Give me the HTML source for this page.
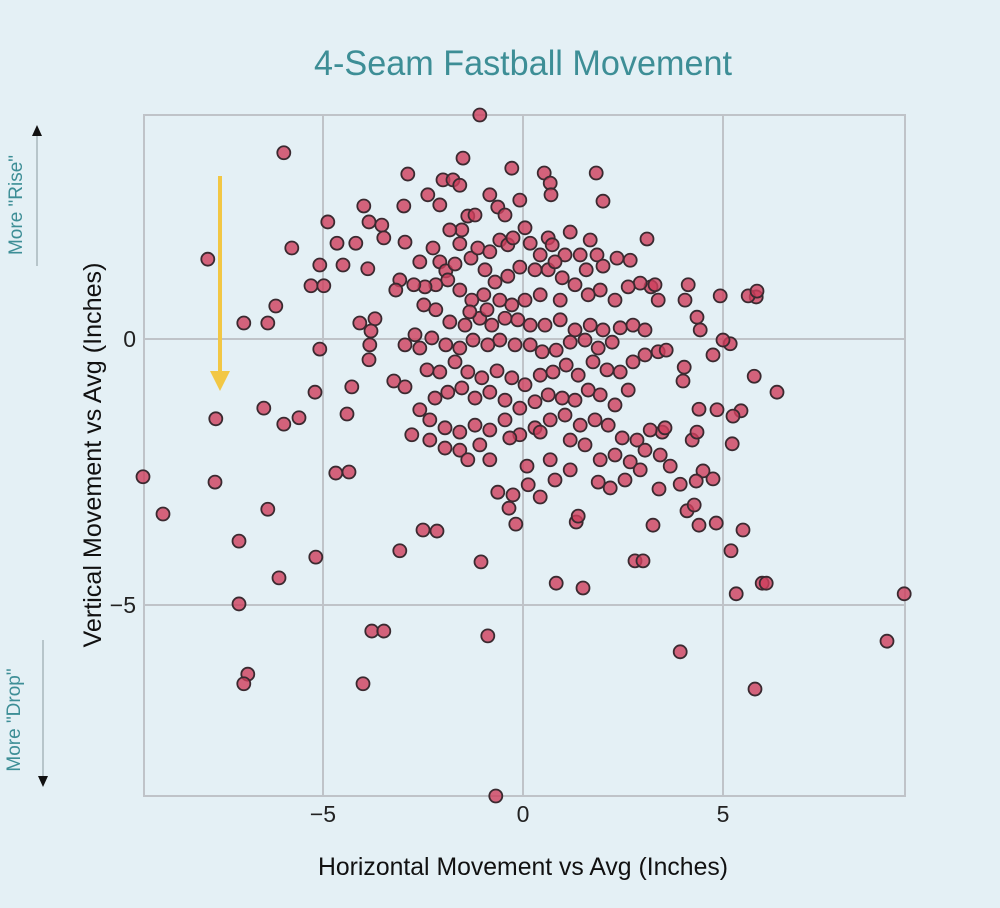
<!DOCTYPE html>
<html><head><meta charset="utf-8">
<style>
html,body{margin:0;padding:0;background:#e4f0f5;}
svg{display:block;font-family:"Liberation Sans",sans-serif;}
</style></head>
<body>
<svg id="chart" width="1000" height="908" viewBox="0 0 1000 908">
<rect x="0" y="0" width="1000" height="908" fill="#e4f0f5"/>
<text x="523" y="75" text-anchor="middle" font-size="35" fill="#3d8e96" textLength="418" lengthAdjust="spacingAndGlyphs">4-Seam Fastball Movement</text>
<g id="grid"></g>
<g id="ticks"></g>
<line x1="220" y1="176" x2="220" y2="372" stroke="#f2c744" stroke-width="4"/>
<polygon points="210,371 230,371 220,391" fill="#f2c744"/>
<g id="points"></g>
<text transform="translate(523,875)" text-anchor="middle" font-size="25" fill="#111" textLength="410" lengthAdjust="spacingAndGlyphs">Horizontal Movement vs Avg (Inches)</text>
<text transform="translate(101,455) rotate(-90)" text-anchor="middle" font-size="25" fill="#111" textLength="385" lengthAdjust="spacingAndGlyphs">Vertical Movement vs Avg (Inches)</text>
<line x1="37" y1="136" x2="37" y2="266" stroke="#8a9aa0" stroke-width="1"/>
<polygon points="32,136 42,136 37,125" fill="#111"/>
<text transform="translate(22,205) rotate(-90)" text-anchor="middle" font-size="19" fill="#3d8e96">More "Rise"</text>
<line x1="43" y1="640" x2="43" y2="776" stroke="#8a9aa0" stroke-width="1"/>
<polygon points="38,776 48,776 43,787" fill="#111"/>
<text transform="translate(20,720) rotate(-90)" text-anchor="middle" font-size="19" fill="#3d8e96">More "Drop"</text>
</svg>
<script>
const xTicks=[-5,0,5];
const yTicks=[0,-5];
const xs=[-1.08,-5.98,-1.50,-0.28,0.53,-2.88,1.83,-2.00,-1.75,0.68,0.70,-2.38,2.00,-2.98,-0.63,-3.98,-4.88,-3.85,-3.53,-3.48,-2.95,-4.65,-4.18,-5.78,-7.88,-5.08,-4.50,-3.88,-5.30,-4.98,-6.18,-6.38,-6.98,-4.08,-3.70,-3.80,-3.83,-5.08,-3.85,-4.28,-5.20,-6.48,-5.60,-4.40,-7.68,-5.98,-2.78,-3.23,-2.95,-4.35,-4.68,-7.70,-9.50,-9.00,-6.38,-7.10,-3.08,-2.50,-2.15,-5.18,-6.10,-1.05,-7.10,-3.78,-3.48,-0.88,-6.88,-6.98,-4.00,-0.68,6.35,5.78,5.45,5.25,5.18,4.93,5.00,5.83,5.63,5.85,4.85,5.23,4.75,4.50,5.20,5.50,5.33,5.98,6.08,9.53,9.10,3.93,5.80,4.33,4.10,4.23,3.93,3.40,3.25,1.50,0.83,2.80,3.00,1.33,1.38,0.10,0.13,-0.18,-0.25,-0.63,-0.35,0.43,4.40,4.35,3.68,3.48,4.28,4.40,4.43,4.35,4.03,4.00,3.10,3.20,3.30,3.38,4.05,4.13,4.75,4.83,
-2.58,-2.25,-2.08,-1.93,-1.70,-1.58,-1.53,-1.38,-1.30,-1.13,-0.95,-0.83,-0.58,-0.38,-0.25,0.05,0.18,0.63,0.73,1.05,1.43,1.58,1.85,2.00,2.35,2.68,2.93,2.63,2.30,1.93,1.63,1.30,0.98,0.63,0.30,-0.08,-0.38,-0.70,-0.98,-1.28,-1.58,-1.88,-2.18,-2.45,-2.73,-3.08,-3.18,-2.48,-2.18,-1.83,-1.45,-1.08,-0.78,-0.45,-0.13,0.18,0.55,0.93,1.30,1.68,2.00,2.43,2.75,3.05,2.23,1.88,1.55,1.18,0.83,0.48,0.18,-0.20,-0.58,-0.88,-1.25,-1.58,-1.93,-2.28,-2.58,-2.95,-2.70,-2.40,-2.08,-1.70,-1.38,-1.03,-0.65,-0.28,0.05,0.43,0.75,1.08,1.38,1.75,2.10,2.43,2.75,3.05,3.38,3.58,2.63,2.30,1.93,1.63,1.30,0.98,0.63,0.30,-0.08,-0.45,-0.83,-1.20,-1.53,-1.88,-2.20,-2.58,-2.33,-1.95,-1.58,-1.20,-0.83,-0.45,-0.08,0.30,0.68,1.05,1.43,1.80,2.13,2.48,2.85,3.18,3.55,3.43,3.05,2.68,2.30,1.93,1.55,1.18,0.43,-0.33,-1.08,-1.58,-1.95,-2.33,-1.38,-0.83,2.93,2.55,2.18,1.88,1.18,0.68,0.80,-1.20,-0.83,-0.45,-0.08,-1.58,-1.83,-2.08,0.43,0.80,1.18,1.68,0.93,0.43,0.05,-0.28,-0.58,-0.90,-1.33];
const ys=[4.21,3.50,3.40,3.21,3.12,3.10,3.12,2.99,2.99,2.93,2.71,2.71,2.59,2.50,2.48,2.50,2.20,2.20,2.14,1.90,1.82,1.80,1.80,1.71,1.50,1.39,1.39,1.32,1.00,1.00,0.62,0.30,0.30,0.30,0.38,0.15,-0.11,-0.19,-0.39,-0.90,-1.00,-1.30,-1.48,-1.41,-1.50,-1.60,-1.80,-0.79,-0.90,-2.50,-2.52,-2.69,-2.59,-3.29,-3.20,-3.80,-3.98,-3.59,-3.61,-4.10,-4.49,-4.19,-4.98,-5.49,-5.49,-5.58,-6.30,-6.48,-6.48,-8.59,-1.00,-0.70,-1.35,-1.45,-0.09,0.81,-0.02,0.79,0.81,0.90,-1.33,-1.97,-2.63,-2.48,-3.98,-3.59,-4.79,-4.59,-4.59,-4.79,-5.68,-5.88,-6.58,-2.67,-3.23,-1.90,-2.73,-2.82,-3.50,-4.68,-4.59,-4.17,-4.17,-3.44,-3.33,-2.39,-2.74,-3.48,-2.93,-2.88,-3.18,-2.97,-1.32,-1.75,-2.39,-1.75,-3.12,-3.50,0.17,0.41,-0.53,-0.79,1.88,0.98,1.02,0.73,0.73,1.02,-0.30,-3.46,
1.45,1.71,1.45,1.28,1.41,1.79,2.05,2.31,1.52,1.71,1.30,1.64,1.86,1.77,1.90,2.09,1.80,1.90,1.77,1.58,1.58,1.30,1.58,1.37,1.52,1.48,1.05,0.98,0.73,0.92,0.83,1.02,1.15,1.30,1.30,1.35,1.18,1.07,0.83,0.73,0.92,1.11,1.02,0.98,1.02,1.11,0.92,0.64,0.55,0.32,0.26,0.39,0.26,0.39,0.36,0.26,0.26,0.36,0.17,0.26,0.17,0.21,0.26,0.17,-0.06,-0.17,-0.02,-0.06,-0.21,-0.24,-0.11,-0.11,-0.02,-0.11,-0.02,-0.17,-0.11,0.02,-0.17,-0.11,0.08,-0.58,-0.62,-0.43,-0.62,-0.73,-0.60,-0.73,-0.86,-0.68,-0.62,-0.49,-0.68,-0.43,-0.58,-0.62,-0.43,-0.30,-0.24,-0.21,-0.96,-1.24,-1.05,-0.96,-1.15,-1.11,-1.05,-1.18,-1.30,-1.15,-1.00,-1.11,-0.92,-1.00,-1.11,-1.33,-1.52,-1.67,-1.75,-1.62,-1.71,-1.52,-1.80,-1.67,-1.52,-1.43,-1.62,-1.52,-1.62,-1.86,-1.90,-1.71,-1.67,-2.18,-2.09,-2.31,-2.18,-2.27,-1.99,-1.90,-1.75,-1.86,-1.99,-2.09,-2.05,-1.90,-2.27,-2.27,-2.46,-2.65,-2.80,-2.69,-2.46,-2.27,-2.65,2.33,2.71,2.33,2.61,2.89,2.05,2.52,1.58,1.45,2.01,1.86,0.73,0.83,0.73,0.64,0.73,0.55,0.51];

const L=144,R=905,T=115,B=796;
const xMin=-9.475,xMax=9.55,yMin=-8.59,yMax=4.21;
function xScale(v){return L+(v-xMin)/(xMax-xMin)*(R-L);}
function yScale(v){return B-(v-yMin)/(yMax-yMin)*(B-T);}
const NS="http://www.w3.org/2000/svg";
const grid=document.getElementById('grid');
const ticks=document.getElementById('ticks');
const frame=document.createElementNS(NS,'rect');
frame.setAttribute('x',L);frame.setAttribute('y',T);frame.setAttribute('width',R-L);frame.setAttribute('height',B-T);
frame.setAttribute('fill','none');frame.setAttribute('stroke','#bfc3c8');frame.setAttribute('stroke-width','2');


grid.appendChild(frame);
xTicks.forEach(t=>{
  const l=document.createElementNS(NS,'line');
  l.setAttribute('x1',xScale(t));l.setAttribute('x2',xScale(t));l.setAttribute('y1',T);l.setAttribute('y2',B);
  l.setAttribute('stroke','#bfc3c8');l.setAttribute('stroke-width','2');
  
  
  grid.appendChild(l);
  const tx=document.createElementNS(NS,'text');
  tx.setAttribute('x',xScale(t));tx.setAttribute('y',822);tx.setAttribute('text-anchor','middle');
  tx.setAttribute('font-size','23');tx.setAttribute('fill','#222');
  tx.textContent=t<0?'\u2212'+Math.abs(t):String(t);
  
  
  ticks.appendChild(tx);
});
yTicks.forEach(t=>{
  const l=document.createElementNS(NS,'line');
  l.setAttribute('x1',L);l.setAttribute('x2',R);l.setAttribute('y1',yScale(t));l.setAttribute('y2',yScale(t));
  l.setAttribute('stroke','#bfc3c8');l.setAttribute('stroke-width','2');
  
  
  grid.appendChild(l);
  const tx=document.createElementNS(NS,'text');
  tx.setAttribute('x',136);tx.setAttribute('y',yScale(t)+8);tx.setAttribute('text-anchor','end');
  tx.setAttribute('font-size','23');tx.setAttribute('fill','#222');
  tx.textContent=t<0?'\u2212'+Math.abs(t):String(t);
  
  
  ticks.appendChild(tx);
});
const pg=document.getElementById('points');
for(let i=0;i<xs.length;i++){
  const c=document.createElementNS(NS,'circle');
  c.setAttribute('cx',xScale(xs[i]));c.setAttribute('cy',yScale(ys[i]));c.setAttribute('r','6.5');
  c.setAttribute('fill','rgba(206,62,92,0.8)');c.setAttribute('stroke','#3a2a30');c.setAttribute('stroke-width','1.8');
  
  
  pg.appendChild(c);
}
</script>
</body></html>
